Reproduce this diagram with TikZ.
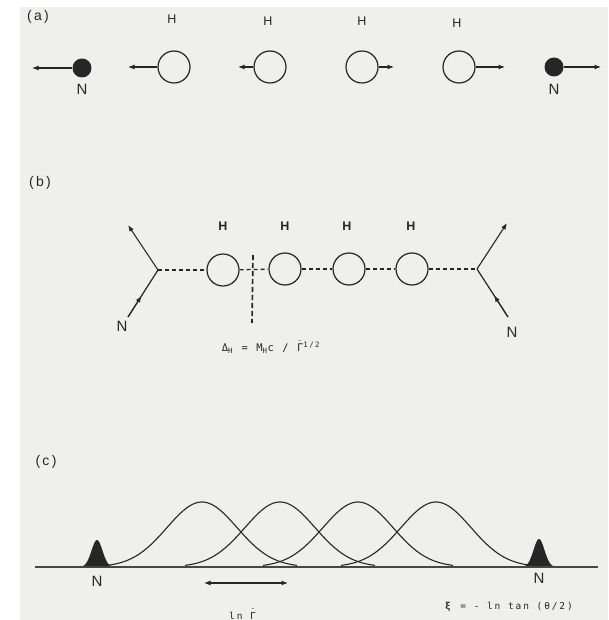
\documentclass[tikz,border=0pt]{standalone}
\usepackage{fontspec}
\setmainfont{Liberation Sans}
\newfontfamily\twfont[LetterSpace=20]{DejaVu Sans Mono}
\usetikzlibrary{arrows.meta,calc}
\definecolor{paper}{RGB}{239,239,238}
\definecolor{inkc}{RGB}{38,38,38}
\newcommand{\myTildeGamma}{\makebox[0pt][l]{\hspace{0.12em}\raisebox{0.85em}{\tiny\textasciitilde}}Γ}
\begin{document}
\begin{tikzpicture}[x=1pt,y=-1pt,
  arr/.style={-{Latex[length=6.5pt,width=5pt]}, line width=1.1pt, draw=inkc},
  hcirc/.style={circle, draw=inkc, line width=1.2pt, minimum size=32pt, inner sep=0pt},
  ndot/.style={circle, fill=inkc, minimum size=19pt, inner sep=0pt},
  hlab/.style={font=\fontsize{12.5}{14}\selectfont, text=inkc, inner sep=0pt},
  hlabb/.style={font=\bfseries\fontsize{12.5}{14}\selectfont, text=inkc, inner sep=0pt},
  nlab/.style={font=\fontsize{15}{17}\selectfont, text=inkc, inner sep=0pt},
  plab/.style={font=\fontsize{14}{16}\selectfont, text=inkc, inner sep=0pt},
  bond/.style={draw=inkc, line width=1.3pt, dash pattern=on 4pt off 3pt},
  cutline/.style={draw=inkc, line width=1.7pt, dash pattern=on 5pt off 3pt},
  formula/.style={font=\twfont\fontsize{9.5}{11}\selectfont, text=inkc, inner sep=0pt},
  formulab/.style={font=\twfont\fontsize{10.5}{12}\selectfont, text=inkc, inner sep=0pt},
  gcurve/.style={draw=inkc, line width=1.1pt},
  axisline/.style={draw=inkc!85, line width=1.7pt},
  leg/.style={draw=inkc, line width=1.2pt},
]
\useasboundingbox (0,0) rectangle (608,620);
\fill[white] (0,0) rectangle (608,620);
\fill[paper] (20,7) rectangle (608,620);

% ---------------- (a)
\node[plab] (pa) at (38,17) {(\,a\,)};
\node[ndot] (an1) at (82,68) {};
\node[hcirc] (ah1) at (174,67) {};
\node[hcirc] (ah2) at (270,67) {};
\node[hcirc] (ah3) at (362,67) {};
\node[hcirc] (ah4) at (459,67) {};
\node[ndot] (an2) at (554,67) {};
\node[hlab] (lah1) at (172,19) {H};
\node[hlab] (lah2) at (268,21) {H};
\node[hlab] (lah3) at (362,21) {H};
\node[hlab] (lah4) at (457,23) {H};
\node[nlab] (lan1) at (82,89) {N};
\node[nlab] (lan2) at (554,89) {N};
\coordinate (ta1) at (32,68);
\coordinate (ta2) at (128,67);
\coordinate (ta3) at (238,67);
\coordinate (ta4) at (394,67);
\coordinate (ta5) at (505,67);
\coordinate (ta6) at (601,67);
\draw[arr] (an1) -- (ta1);
\draw[arr] (ah1) -- (ta2);
\draw[arr] (ah2) -- (ta3);
\draw[arr] (ah3) -- (ta4);
\draw[arr] (ah4) -- (ta5);
\draw[arr] (an2) -- (ta6);

% ---------------- (b)
\node[plab] (pb) at (40,183) {(\,b\,)};
\coordinate (vl) at (158,270);
\coordinate (vr) at (477,269);
\coordinate (ul) at (128,225);
\coordinate (dl) at (128,317);
\coordinate (ur) at (507,223);
\coordinate (dr) at (508,317);
\node[hcirc] (b1) at (223,270) {};
\node[hcirc] (b2) at (285,269) {};
\node[hcirc] (b3) at (349,269) {};
\node[hcirc] (b4) at (412,269) {};
\node[hlabb] (lb1) at (223,226) {H};
\node[hlabb] (lb2) at (285,226) {H};
\node[hlabb] (lb3) at (347,226) {H};
\node[hlabb] (lb4) at (411,226) {H};
\node[nlab] (lbn1) at (122,326) {N};
\node[nlab] (lbn2) at (512,332) {N};
\draw[bond] (vl) -- (b1);
\draw[bond] (b1) -- (b2);
\draw[bond] (b2) -- (b3);
\draw[bond] (b3) -- (b4);
\draw[bond] (b4) -- (vr);
\draw[arr] (vl) -- (ul);
\draw[arr] (vr) -- (ur);
\draw[leg] (dl) -- (vl);
\draw[leg] (dr) -- (vr);
\draw[arr] (dl) -- ($(dl)!0.45!(vl)$);
\draw[arr] (dr) -- ($(dr)!0.45!(vr)$);
\coordinate (ct) at (253,255);
\coordinate (cb) at (252,323);
\draw[cutline] (ct) -- (cb);
\node[formulab] (fdelta) at (271,347) {Δ\textsubscript{H} = M\textsubscript{H}c / \myTildeGamma\textsuperscript{1/2}};

% ---------------- (c)
\node[plab] (pc) at (46,462) {(\,c\,)};
\coordinate (bl) at (35,567);
\coordinate (br) at (598,567);
\fill[inkc] plot[domain=-16:16, samples=40, smooth] ({97+\x},{567-27*exp(-(\x*\x)/(2*30))}) -- cycle;
\fill[inkc] plot[domain=-16:16, samples=40, smooth] ({539+\x},{567-28*exp(-(\x*\x)/(2*30))}) -- cycle;
\foreach \c in {202,280,358,436}{
  \draw[gcurve] plot[domain=-95:95, samples=90, smooth] ({\c+\x},{567-65*exp(-(\x*\x)/(2*1225))});
}
\draw[axisline] (bl) -- (br);
\node[nlab] (lcn1) at (97,581) {N};
\node[nlab] (lcn2) at (539,578) {N};
\coordinate (dal) at (204,583);
\coordinate (dar) at (288,583);
\draw[arr, {Latex[length=6.5pt,width=5pt]}-{Latex[length=6.5pt,width=5pt]}] (dal) -- (dar);
\node[formula, anchor=base west] (flog) at (229,619) {ln \myTildeGamma};
\node[formula] (fxi) at (509,607) {\textbf{ξ} = - ln tan (θ/2)};
\end{tikzpicture}
\end{document}
